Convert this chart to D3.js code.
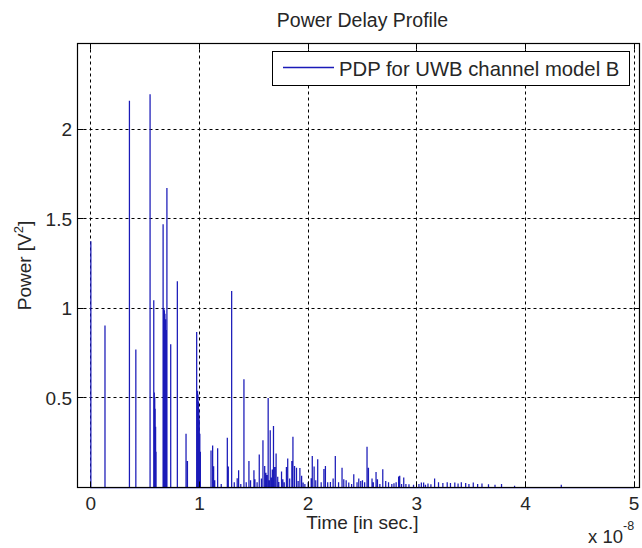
<!DOCTYPE html>
<html>
<head>
<meta charset="utf-8">
<script src="https://cdn.jsdelivr.net/npm/d3@7"></script>
<style>
  body { margin: 0; background: #fff; }
  text { font-family: 'Liberation Sans', Arial, sans-serif; fill: #262626; }
</style>
</head>
<body>
<div id="chart"></div>
<script>
'use strict'

// delays in units of 1e-8 s, power in V^2
const delays = [
  0.000, 0.130, 0.355, 0.414, 0.545, 0.579, 0.584, 0.588, 0.592, 0.596, 0.600,
  0.665, 0.672, 0.677, 0.682, 0.687, 0.692, 0.700, 0.735, 0.796, 0.876, 0.889,
  0.974, 0.982, 0.986, 0.990, 0.994, 0.998, 1.003, 1.008,
  1.106, 1.121, 1.130, 1.140, 1.167, 1.200, 1.256, 1.265, 1.296, 1.320, 1.347,
  1.360, 1.380, 1.409, 1.430, 1.455, 1.470, 1.501, 1.510, 1.530, 1.550, 1.570,
  1.584, 1.600, 1.611, 1.620, 1.632, 1.640, 1.651, 1.663, 1.670, 1.681, 1.693,
  1.705, 1.720, 1.730, 1.755, 1.767, 1.780, 1.800, 1.812, 1.830, 1.850, 1.860,
  1.875, 1.893, 1.908, 1.924, 1.940, 1.954, 1.970,
  2.000, 2.028, 2.038, 2.055, 2.070, 2.088, 2.120, 2.145, 2.159, 2.180, 2.205,
  2.230, 2.250, 2.280, 2.312, 2.328, 2.350, 2.374, 2.400, 2.420, 2.450, 2.466,
  2.484, 2.500, 2.520, 2.542, 2.555, 2.588, 2.600, 2.625, 2.638, 2.660, 2.687,
  2.714, 2.740, 2.770, 2.790, 2.810, 2.833, 2.843, 2.860, 2.880, 2.900, 2.928,
  2.970, 3.020, 3.042, 3.063, 3.080, 3.103, 3.130, 3.164, 3.200, 3.240, 3.280,
  3.310, 3.350, 3.380, 3.410, 3.450, 3.480, 3.520, 3.560, 3.600, 3.660, 3.720,
  3.780, 3.900, 4.330
]
const powers = [
  1.375, 0.905, 2.160, 0.771, 2.197, 1.046, 0.530, 0.500, 0.440, 0.340, 0.200,
  1.470, 1.000, 0.990, 0.970, 0.940, 0.880, 1.673, 0.800, 1.152, 0.300, 0.148,
  0.868, 0.540, 0.520, 0.480, 0.440, 0.380, 0.300, 0.200,
  0.206, 0.234, 0.118, 0.040, 0.219, 0.020, 0.278, 0.117, 1.097, 0.030, 0.052,
  0.096, 0.020, 0.604, 0.030, 0.148, 0.040, 0.096, 0.046, 0.030, 0.184, 0.050,
  0.264, 0.120, 0.083, 0.070, 0.500, 0.040, 0.320, 0.056, 0.100, 0.344, 0.115,
  0.190, 0.060, 0.031, 0.089, 0.046, 0.030, 0.115, 0.162, 0.050, 0.148, 0.284,
  0.120, 0.111, 0.037, 0.109, 0.065, 0.028, 0.020,
  0.030, 0.052, 0.176, 0.117, 0.040, 0.158, 0.030, 0.104, 0.120, 0.030, 0.031,
  0.050, 0.176, 0.030, 0.111, 0.046, 0.040, 0.028, 0.020, 0.074, 0.030, 0.050,
  0.037, 0.040, 0.030, 0.227, 0.111, 0.050, 0.030, 0.087, 0.046, 0.020, 0.102,
  0.037, 0.030, 0.020, 0.024, 0.030, 0.061, 0.065, 0.020, 0.056, 0.020, 0.018,
  0.015, 0.020, 0.028, 0.028, 0.015, 0.022, 0.018, 0.050, 0.030, 0.025, 0.030,
  0.025, 0.028, 0.022, 0.030, 0.025, 0.020, 0.028, 0.020, 0.022, 0.018, 0.015,
  0.020, 0.010, 0.015
]
const xTicks = [0, 1, 2, 3, 4, 5]
const yTicks = [0.5, 1, 1.5, 2]
const timeSpan = [0, 5]

const width = 642
const height = 548
const m = { left: 77.5, right: 639.5, top: 43.5, bottom: 487.5 }

const svg = d3.select('#chart')
  .append('svg')
  .attr('width', width)
  .attr('height', height)

const x = d3.scaleLinear().domain([-0.123, 5.05]).range([m.left, m.right])
const y = d3.scaleLinear().domain([0, 2.48]).range([m.bottom, m.top])
const crisp = v => Math.round(v - 0.5) + 0.5

// dotted grid
svg.append('g')
  .selectAll('line')
  .data(xTicks)
  .join('line')
  .attr('x1', d => crisp(x(d))).attr('x2', d => crisp(x(d)))
  .attr('y1', m.top).attr('y2', m.bottom)
  .attr('stroke', '#000')
  .attr('stroke-dasharray', '3,3')

svg.append('g')
  .selectAll('line')
  .data(yTicks)
  .join('line')
  .attr('x1', m.left).attr('x2', m.right)
  .attr('y1', d => crisp(y(d))).attr('y2', d => crisp(y(d)))
  .attr('stroke', '#000')
  .attr('stroke-dasharray', '3,3')

// the power delay profile as a single line (zero between the taps)
const pts = [[timeSpan[0], 0]]
delays.forEach((t, i) => {
  pts.push([t, 0], [t, powers[i]], [t, 0])
})
pts.push([timeSpan[1], 0])

svg.append('path')
  .datum(pts)
  .attr('fill', 'none')
  .attr('stroke', '#1a1ab8')
  .attr('stroke-width', 1.25)
  .attr('d', d3.line().x(d => x(d[0])).y(d => y(d[1])))

// inside ticks on all four sides
const tickLen = 6
const ticks = svg.append('g').attr('stroke', '#000')
xTicks.forEach(t => {
  const px = crisp(x(t))
  ticks.append('line').attr('x1', px).attr('x2', px).attr('y1', m.bottom).attr('y2', m.bottom - tickLen)
  ticks.append('line').attr('x1', px).attr('x2', px).attr('y1', m.top).attr('y2', m.top + tickLen)
})
yTicks.forEach(v => {
  const py = crisp(y(v))
  ticks.append('line').attr('x1', m.left).attr('x2', m.left + tickLen).attr('y1', py).attr('y2', py)
  ticks.append('line').attr('x1', m.right).attr('x2', m.right - tickLen).attr('y1', py).attr('y2', py)
})

// frame
svg.append('rect')
  .attr('x', m.left).attr('y', m.top)
  .attr('width', m.right - m.left).attr('height', m.bottom - m.top)
  .attr('fill', 'none')
  .attr('stroke', '#000')
  .attr('stroke-width', 1.2)

// tick labels
svg.append('g')
  .selectAll('text')
  .data(xTicks)
  .join('text')
  .attr('x', d => x(d))
  .attr('y', 510)
  .attr('text-anchor', 'middle')
  .style('font-size', '19px')
  .text(d => d)

svg.append('g')
  .selectAll('text')
  .data(yTicks)
  .join('text')
  .attr('x', 72)
  .attr('y', d => y(d) + 7)
  .attr('text-anchor', 'end')
  .style('font-size', '19px')
  .text(d => d)

// exponent
const expo = svg.append('text')
  .attr('x', 588)
  .attr('y', 543)
  .style('font-size', '18.5px')
expo.append('tspan').text('x 10')
expo.append('tspan').attr('dy', -13).style('font-size', '12.5px').text('-8')

// axis labels and title
svg.append('text')
  .attr('x', (x(0) + x(5)) / 2)
  .attr('y', 529)
  .attr('text-anchor', 'middle')
  .style('font-size', '19px')
  .text('Time [in sec.]')

const ylab = svg.append('text')
  .attr('transform', `translate(31, ${(m.top + m.bottom) / 2}) rotate(-90)`)
  .attr('text-anchor', 'middle')
  .style('font-size', '19px')
ylab.append('tspan').text('Power [V')
ylab.append('tspan').attr('dy', -8).style('font-size', '13px').text('2')
ylab.append('tspan').attr('dy', 8).text(']')

svg.append('text')
  .attr('x', (x(0) + x(5)) / 2)
  .attr('y', 27)
  .attr('text-anchor', 'middle')
  .style('font-size', '19.5px')
  .text('Power Delay Profile')

// legend
const legend = svg.append('g')
legend.append('rect')
  .attr('x', 272.5).attr('y', 51.5)
  .attr('width', 357).attr('height', 34)
  .attr('fill', '#fff')
  .attr('stroke', '#000')
legend.append('line')
  .attr('x1', 283).attr('x2', 334)
  .attr('y1', 67.5).attr('y2', 67.5)
  .attr('stroke', '#1a1ab8')
  .attr('stroke-width', 1.3)
legend.append('text')
  .attr('x', 339)
  .attr('y', 75.5)
  .style('font-size', '20.3px')
  .text('PDP for UWB channel model B')
</script>
</body>
</html>
